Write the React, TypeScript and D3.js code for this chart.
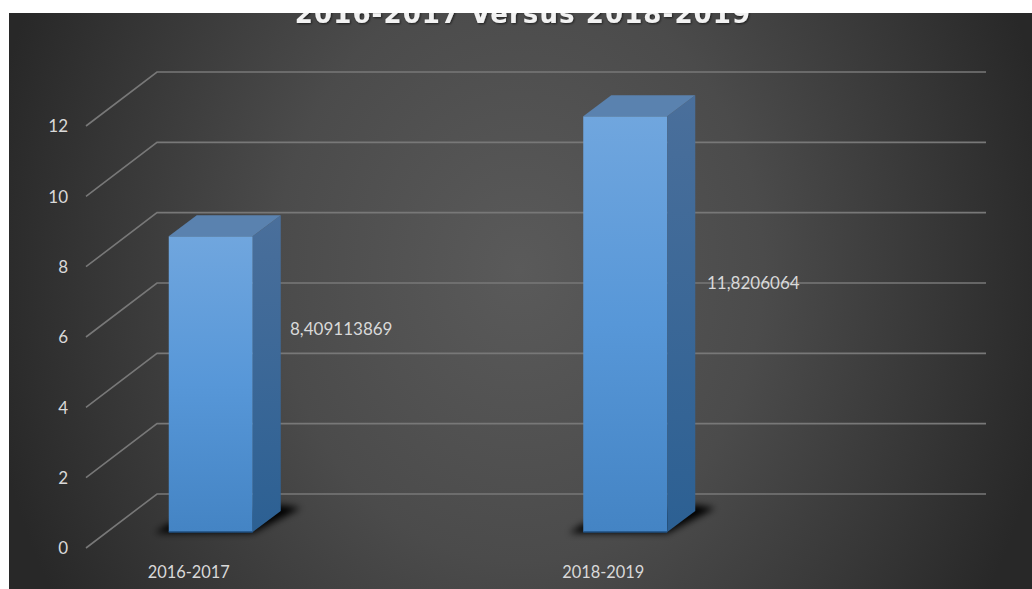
import React from "react";
import * as d3 from "d3";

const categories = ["2016-2017", "2018-2019"];
const values = [8.409113869, 11.8206064];
const valueLabels = ["8,409113869", "11,8206064"];
const yTicks = [0, 2, 4, 6, 8, 10, 12];
const titleText = "2016-2017 Versus 2018-2019";

const W = 1032;
const H = 589;
const FONT = "Lato, 'Open Sans', sans-serif";

// Height scale shared by the wall, the floor edge and the bars (0 at the wall's base)
const unitScale = d3.scaleLinear().domain([0, 12]).range([0, -422]);
const wallLeft = 157;
const wallRight = 986;
const wallBase = 494;
const frontDx = -71;
const frontDy = 54;

// Column placement on the front of the floor
const band = d3.scaleBand<string>().domain(categories).range([3.5, 832.5]);
const barWidth = 84;
const barBase = 532;
const sideDx = 28;
const sideDy = -21;

const labelOffsets = [
  { x: 290, y: 331 },
  { x: 707, y: 285 },
];

export default function App() {
  return (
    <svg
      width={W}
      height={H}
      viewBox={`0 0 ${W} ${H}`}
      style={{ position: "absolute", left: 0, top: 0, display: "block" }}
    >
      <defs>
        <radialGradient id="panel" gradientUnits="userSpaceOnUse" cx={520} cy={270} r={540} gradientTransform="translate(0 -54) scale(1 1.2)">
          <stop offset="0" stopColor="#5a5a5a" />
          <stop offset="0.45" stopColor="#4b4b4b" />
          <stop offset="0.8" stopColor="#353535" />
          <stop offset="1" stopColor="#282828" />
        </radialGradient>
        <linearGradient id="front" x1="0" y1="0" x2="0" y2="1">
          <stop offset="0" stopColor="#70a6de" />
          <stop offset="0.5" stopColor="#5797d8" />
          <stop offset="1" stopColor="#4484c4" />
        </linearGradient>
        <linearGradient id="side" x1="0" y1="0" x2="0" y2="1">
          <stop offset="0" stopColor="#4a6f9b" />
          <stop offset="1" stopColor="#2c6093" />
        </linearGradient>
        <filter id="soft" x="-30%" y="-60%" width="160%" height="220%">
          <feGaussianBlur stdDeviation="3.5" />
        </filter>
        <filter id="titleShadow" x="-5%" y="-30%" width="110%" height="160%">
          <feDropShadow dx="1" dy="1" stdDeviation="1.2" floodColor="#000" floodOpacity="0.6" />
        </filter>
      </defs>

      <rect x={0} y={0} width={W} height={H} fill="#fff" />
      <rect x={9} y={13} width={W - 9} height={H - 13} fill="url(#panel)" />

      <text
        x={523}
        y={23}
        textAnchor="middle"
        fontFamily="'DejaVu Sans', sans-serif"
        fontWeight={700}
        fontSize={26}
        letterSpacing={1.1}
        fill="#f2f2f2"
        filter="url(#titleShadow)"
      >
        {titleText}
      </text>
      {/* The heading runs off the top of the panel */}
      <rect x={0} y={0} width={W} height={13} fill="#fff" />

      {yTicks.map((t) => {
        const y = wallBase + unitScale(t);
        return (
          <g key={t}>
            <polyline
              points={`${wallLeft + frontDx},${y + frontDy} ${wallLeft},${y} ${wallRight},${y}`}
              fill="none"
              stroke="#787878"
              strokeWidth={1.6}
            />
            <text
              x={68}
              y={y + frontDy + 2}
              textAnchor="end"
              dominantBaseline="middle"
              fontFamily={FONT}
              fontSize={17}
              fill="#d9d9d9"
            >
              {t}
            </text>
          </g>
        );
      })}

      {categories.map((c, i) => {
        const x0 = band(c)! + band.bandwidth() / 2 - barWidth / 2;
        const x1 = x0 + barWidth;
        const top = barBase + unitScale(values[i]);
        return (
          <g key={c}>
            <polygon
              points={`${x0 - 14},${barBase + 1} ${x1},${barBase + 1} ${x1 + sideDx + 20},${barBase + sideDy - 3} ${x1 + sideDx},${barBase + sideDy - 6} ${x0},${barBase - 8}`}
              fill="#050505"
              filter="url(#soft)"
            />
            <rect x={x0} y={top} width={barWidth} height={barBase - top} fill="url(#front)" />
            <line x1={x0} x2={x1} y1={barBase} y2={barBase} stroke="#1f4f80" strokeWidth={1.5} />
            <polygon
              points={`${x1},${top} ${x1 + sideDx},${top + sideDy} ${x1 + sideDx},${barBase + sideDy} ${x1},${barBase}`}
              fill="url(#side)"
            />
            <polygon
              points={`${x0},${top} ${x0 + sideDx},${top + sideDy} ${x1 + sideDx},${top + sideDy} ${x1},${top}`}
              fill="#5a82af"
            />
            <text
              x={labelOffsets[i].x}
              y={labelOffsets[i].y}
              dominantBaseline="middle"
              fontFamily={FONT}
              fontSize={17}
              fill="#d9d9d9"
            >
              {valueLabels[i]}
            </text>
            <text
              x={(x0 + x1) / 2 - 22}
              y={574}
              textAnchor="middle"
              dominantBaseline="middle"
              fontFamily={FONT}
              fontSize={16.4}
              fill="#d9d9d9"
            >
              {c}
            </text>
          </g>
        );
      })}
    </svg>
  );
}
